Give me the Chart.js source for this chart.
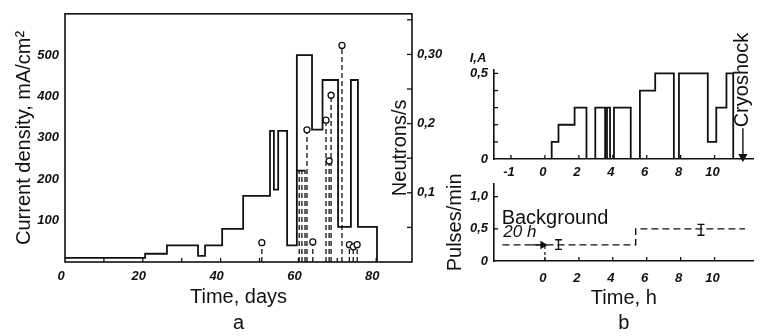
<!DOCTYPE html>
<html>
<head>
<meta charset="utf-8">
<script src="https://cdn.jsdelivr.net/npm/chart.js@4.4.1/dist/chart.umd.min.js"></script>
<style>
  html, body { margin: 0; padding: 0; background: #fff; }
  #wrap { position: relative; width: 759px; height: 336px; overflow: hidden; }
  #wrap canvas { position: absolute; }
</style>
</head>
<body>
<div id="wrap">
  <canvas id="chartA" width="470" height="336" style="left:0;top:0"></canvas>
  <canvas id="chartB1" width="319" height="190" style="left:440px;top:0"></canvas>
  <canvas id="chartB2" width="319" height="166" style="left:440px;top:170px"></canvas>
</div>
<script>
// --- panel a: current density (level starts at that day)
const daySteps = [0, 20.6, 26.2, 34.2, 36.0, 40.4, 45.8, 52.7, 53.7, 54.8, 57.1, 59.6, 63.5, 66.2, 70.2, 73.5, 75.3, 80.2];
const densityLevels = [10, 20, 40, 15, 40, 80, 160, 317, 175, 317, 40, 500, 320, 440, 85, 440, 85, 0];
// neutron bursts with a circle on top
const burstDays = [50.6, 62.2, 63.7, 67.1, 67.9, 68.4, 71.2, 73.1, 74.1, 75.1];
const burstRates = [0.028, 0.191, 0.029, 0.205, 0.146, 0.241, 0.313, 0.025, 0.022, 0.025];
// bursts under the flat bar near day 60
const barDays = [60.2, 60.9, 61.7];
const barRate = 0.132;
const barSpan = [59.6, 61.8];
const dayTicks = [0, 20, 40, 60, 80];
const densityTicks = [100, 200, 300, 400, 500];
const neutronTicks = [0.1, 0.2, 0.3];
const neutronTickLabels = ['0,1', '0,2', '0,30'];
const neutronMinor = [0.05, 0.1, 0.15, 0.2, 0.25, 0.3, 0.35];

// --- panel b: current I (level starts at that hour)
const hourSteps = [0.4, 0.4, 0.8, 1.75, 2.45, 2.97, 3.55, 3.66, 3.84, 4.07, 5.06, 5.6, 6.5, 7.6, 7.9, 9.6, 10.1, 10.7, 11.1];
const currentLevels = [0, 0.1, 0.2, 0.3, 0, 0.3, 0, 0.3, 0, 0.3, 0, 0.4, 0.5, 0, 0.5, 0.1, 0.3, 0.5, 0];
const pulseHours = [-2.5, 5.35, 11.8];
const pulseLevels = [0.25, 0.5, 0.5];
const errHours = [0.8, 9.2];
const errLow = [0.18, 0.40];
const errHigh = [0.33, 0.57];
const cryoshockHour = 11.67;
const hourTicks = [-2, 0, 2, 4, 6, 8, 10];
const hourTickLabels = ['-1', '0', '2', '4', '6', '8', '10'];
const currentTicks = [0, 0.5];
const currentTickLabels = ['0', '0,5'];
const pulseTicks = [0, 0.5, 1.0];
const pulseTickLabels = ['0', '0,5', '1,0'];

Chart.defaults.color = '#111';
Chart.defaults.font.family = 'Liberation Sans, Arial, sans-serif';

const INK = '#111';
const tickFont = { family: 'Liberation Sans', size: 13, style: 'italic', weight: 'bold' };
const titleFont = { family: 'Liberation Sans', size: 20, lineHeight: 1.3 };

function setTicks(values) {
    return function (scale) {
        scale.ticks = values.map(v => ({ value: v }));
    };
}

// short tick marks pointing into the plot
function inTicks(list) {
    return {
        id: 'inTicks',
        afterDatasetsDraw(chart) {
            const ctx = chart.ctx;
            ctx.save();
            ctx.strokeStyle = INK;
            ctx.lineWidth = 1.3;
            list.forEach(t => {
                const s = chart.scales[t.scale];
                t.values.forEach(v => {
                    const p = s.getPixelForValue(v);
                    ctx.beginPath();
                    if (s.isHorizontal()) {
                        ctx.moveTo(p, s.top); ctx.lineTo(p, s.top - t.len);
                    } else if (s.position === 'left') {
                        ctx.moveTo(s.right, p); ctx.lineTo(s.right + t.len, p);
                    } else {
                        ctx.moveTo(s.left, p); ctx.lineTo(s.left - t.len, p);
                    }
                    ctx.stroke();
                });
            });
            ctx.restore();
        }
    };
}

// free texts
function labels(list) {
    return {
        id: 'labels',
        afterDraw(chart) {
            const ctx = chart.ctx;
            list.forEach(t => {
                const p = t.at(chart);
                ctx.save();
                ctx.fillStyle = INK;
                ctx.font = t.font;
                ctx.translate(p[0], p[1]);
                if (t.rot) ctx.rotate(t.rot);
                ctx.textAlign = t.align || 'left';
                ctx.textBaseline = 'middle';
                ctx.fillText(t.text, 0, 0);
                ctx.restore();
            });
        }
    };
}

const frame = {
    id: 'frame',
    afterDatasetsDraw(chart) {
        const a = chart.chartArea;
        const ctx = chart.ctx;
        ctx.save();
        ctx.strokeStyle = INK;
        ctx.lineWidth = 1.6;
        ctx.strokeRect(a.left, a.top, a.right - a.left, a.bottom - a.top);
        ctx.restore();
    }
};

function stems(xs, ys) {
    const pts = [];
    xs.forEach((x, i) => {
        pts.push({ x: x, y: 0 }, { x: x, y: ys[i] }, { x: x, y: null });
    });
    return pts;
}

const baseOpts = {
    responsive: false,
    animation: false,
    events: [],
    plugins: { legend: { display: false }, tooltip: { enabled: false } }
};

// ---------- panel a ----------
new Chart(document.getElementById('chartA'), {
    type: 'line',
    data: {
        datasets: [
            {
                data: daySteps.map((d, i) => ({ x: d, y: densityLevels[i] })),
                yAxisID: 'y',
                stepped: true,
                borderColor: INK,
                borderWidth: 1.8,
                pointRadius: 0
            },
            {
                data: stems(burstDays, burstRates),
                yAxisID: 'y2',
                borderColor: INK,
                borderWidth: 1.3,
                borderDash: [5, 3],
                pointRadius: c => (c.dataIndex % 3 === 1 ? 3 : 0),
                pointBackgroundColor: '#fff',
                pointBorderColor: INK,
                pointBorderWidth: 1.3
            },
            {
                data: stems(barDays, barDays.map(() => barRate)),
                yAxisID: 'y2',
                borderColor: INK,
                borderWidth: 1.3,
                borderDash: [5, 3],
                pointRadius: 0
            },
            {
                data: barSpan.map(d => ({ x: d, y: barRate })),
                yAxisID: 'y2',
                borderColor: INK,
                borderWidth: 1.6,
                pointRadius: 0
            }
        ]
    },
    options: {
        ...baseOpts,
        layout: { padding: { top: 12, left: 0, right: 0, bottom: 0 } },
        scales: {
            x: {
                type: 'linear', min: 0, max: 89.2,
                afterFit: s => { s.height = 74; },
                afterBuildTicks: setTicks(dayTicks),
                grid: { display: false, drawTicks: false },
                border: { display: false },
                ticks: { font: tickFont, padding: 7, labelOffset: -4, maxRotation: 0 },
                title: { display: true, text: ['Time, days', 'a'], font: titleFont, padding: 0 }
            },
            y: {
                type: 'linear', position: 'left', min: 0, max: 600,
                afterFit: s => { s.width = 65; },
                afterBuildTicks: setTicks(densityTicks),
                grid: { display: false, drawTicks: false },
                border: { display: false },
                ticks: { font: tickFont, padding: 6 },
                title: { display: true, text: 'Current density, mA/cm²', font: { family: 'Liberation Sans', size: 20 }, padding: { top: 12, bottom: 0 } }
            },
            y2: {
                type: 'linear', position: 'right', min: 0, max: 0.3587,
                afterFit: s => { s.width = 58; },
                afterBuildTicks: setTicks(neutronTicks),
                grid: { display: false, drawTicks: false },
                border: { display: false },
                ticks: {
                    font: tickFont, padding: 5,
                    callback: v => neutronTickLabels[neutronTicks.indexOf(v)]
                }
            }
        }
    },
    plugins: [
        frame,
        inTicks([
            { scale: 'x', values: [10, 20, 30, 40, 50, 60, 70, 80], len: 4 },
            { scale: 'y2', values: neutronMinor, len: 5 }
        ]),
        labels([
            {
                text: 'Neutrons/s', font: '20px Liberation Sans', rot: -Math.PI / 2, align: 'center',
                at: c => [c.chartArea.right - 12, c.scales.y2.getPixelForValue(0.165)]
            }
        ])
    ]
});

// ---------- panel b, current ----------
new Chart(document.getElementById('chartB1'), {
    type: 'line',
    data: {
        datasets: [
            {
                data: hourSteps.map((h, i) => ({ x: h, y: currentLevels[i] })),
                stepped: true,
                borderColor: INK,
                borderWidth: 1.8,
                pointRadius: 0
            },
            {
                data: [{ x: cryoshockHour, y: 0.18 }, { x: cryoshockHour, y: 0.014 }],
                borderColor: INK,
                borderWidth: 1.4,
                pointRadius: [0, 4],
                pointStyle: 'triangle',
                rotation: 180,
                pointBackgroundColor: INK,
                pointBorderColor: INK,
                clip: false
            }
        ]
    },
    options: {
        ...baseOpts,
        layout: { padding: { top: 70, left: 0, right: 2, bottom: 0 } },
        scales: {
            x: {
                type: 'linear', min: -3, max: 12.3,
                afterFit: s => { s.height = 31; },
                afterBuildTicks: setTicks(hourTicks),
                grid: { display: false, drawTicks: false },
                border: { display: true, color: INK, width: 1.6 },
                ticks: {
                    font: tickFont, padding: 6, labelOffset: -2, maxRotation: 0,
                    callback: v => hourTickLabels[hourTicks.indexOf(v)]
                }
            },
            y: {
                type: 'linear', min: 0, max: 0.52,
                afterFit: s => { s.width = 54; },
                afterBuildTicks: setTicks(currentTicks),
                grid: { display: false, drawTicks: false },
                border: { display: true, color: INK, width: 1.6 },
                ticks: {
                    font: tickFont, padding: 6,
                    callback: v => currentTickLabels[currentTicks.indexOf(v)]
                }
            }
        }
    },
    plugins: [
        inTicks([
            { scale: 'x', values: hourTicks, len: 4 },
            { scale: 'y', values: [0.1, 0.2, 0.3, 0.4, 0.5], len: 4 }
        ]),
        labels([
            {
                text: 'I,A', font: 'italic bold 13px Liberation Sans', align: 'center',
                at: c => [c.chartArea.left - 16, c.chartArea.top - 12]
            },
            {
                text: 'Cryoshock', font: '20px Liberation Sans', rot: -Math.PI / 2, align: 'left',
                at: c => [c.scales.x.getPixelForValue(cryoshockHour), c.scales.y.getPixelForValue(0.185)]
            }
        ])
    ]
});

// ---------- panel b, pulses ----------
new Chart(document.getElementById('chartB2'), {
    type: 'line',
    data: {
        datasets: [
            {
                data: pulseHours.map((h, i) => ({ x: h, y: pulseLevels[i] })),
                stepped: true,
                borderColor: INK,
                borderWidth: 1.4,
                borderDash: [7, 4],
                pointRadius: 0
            },
            {
                data: [{ x: 0, y: 0 }, { x: 0, y: pulseLevels[0] }],
                borderColor: INK,
                borderWidth: 1.2,
                borderDash: [3, 3],
                pointRadius: 0
            },
            {
                data: [{ x: -0.8, y: pulseLevels[0] }, { x: -0.12, y: pulseLevels[0] }],
                borderColor: INK,
                borderWidth: 1.4,
                pointRadius: [0, 3.5],
                pointStyle: 'triangle',
                rotation: 90,
                pointBackgroundColor: INK,
                pointBorderColor: INK
            },
            {
                data: errHours.flatMap((h, i) => [{ x: h, y: errLow[i] }, { x: h, y: errHigh[i] }, { x: h, y: null }]),
                borderColor: INK,
                borderWidth: 1.4,
                pointRadius: c => (c.dataIndex % 3 === 2 ? 0 : 3.5),
                pointStyle: 'line',
                pointBorderColor: INK,
                pointBorderWidth: 1.4
            }
        ]
    },
    options: {
        ...baseOpts,
        layout: { padding: { top: 11, left: 0, right: 2, bottom: 0 } },
        scales: {
            x: {
                type: 'linear', min: -3, max: 12.3,
                afterFit: s => { s.height = 75; },
                afterBuildTicks: setTicks(hourTicks.slice(1)),
                grid: { display: false, drawTicks: false },
                border: { display: true, color: INK, width: 1.6 },
                ticks: {
                    font: tickFont, padding: 10, labelOffset: -2, maxRotation: 0,
                    callback: v => hourTickLabels[hourTicks.indexOf(v)]
                },
                title: { display: true, text: ['Time, h', 'b'], font: { family: 'Liberation Sans', size: 20, lineHeight: 1.25 }, padding: 0 }
            },
            y: {
                type: 'linear', min: 0, max: 1.2,
                afterFit: s => { s.width = 54; },
                afterBuildTicks: setTicks(pulseTicks),
                grid: { display: false, drawTicks: false },
                border: { display: true, color: INK, width: 1.6 },
                ticks: {
                    font: tickFont, padding: 6,
                    callback: v => pulseTickLabels[pulseTicks.indexOf(v)]
                },
                title: { display: true, text: 'Pulses/min', font: { family: 'Liberation Sans', size: 20 }, padding: { top: 3, bottom: 0 } }
            }
        }
    },
    plugins: [
        inTicks([
            { scale: 'x', values: [0, 2, 4, 6, 8, 10], len: 4 },
            { scale: 'y', values: [0.5, 1.0], len: 4 }
        ]),
        labels([
            {
                text: 'Background', font: '20px Liberation Sans', align: 'left',
                at: c => [c.scales.x.getPixelForValue(-2.55), c.scales.y.getPixelForValue(0.66)]
            },
            {
                text: '20 h', font: 'italic 17px Liberation Sans', align: 'left',
                at: c => [c.scales.x.getPixelForValue(-2.45), c.scales.y.getPixelForValue(0.44)]
            }
        ])
    ]
});
</script>
</body>
</html>
